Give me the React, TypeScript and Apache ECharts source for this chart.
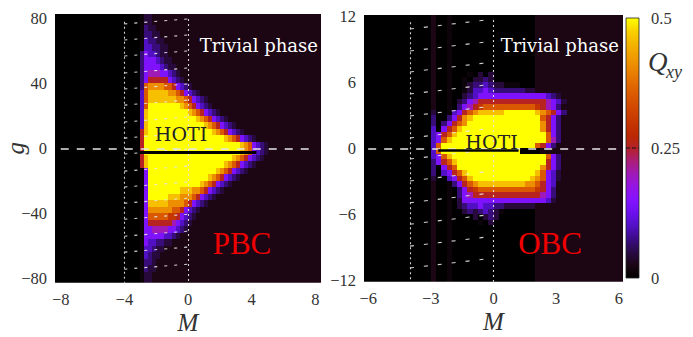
import React, { useEffect, useRef } from 'react';
import * as echarts from 'echarts';

// value level for each character in the row strings
const LEVEL: Record<string, number> = {
  _: 0, a: 0.012, b: 0.025, c: 0.045, d: 0.07, e: 0.1, p: 0.145, m: 0.2,
  r: 0.255, s: 0.3, o: 0.35, q: 0.41, y: 0.46, Y: 0.5,
};

// colormap stops from 0 to 0.5 (step 0.025)
const COLOR_STOPS = [
  '#000000', '#1c0614', '#2a0a46', '#3c0c86', '#5210c4', '#6c10ee', '#8412ff',
  '#9414e6', '#a01ab8', '#ac1e78', '#b42228', '#bc2800', '#c63600', '#d04600',
  '#da5800', '#e26c00', '#ea8400', '#f09c00', '#f4b400', '#f9d200', '#ffff00',
];

// PBC panel: rows from g=80 downward (step 4), columns from M=-3.5 (step 0.25)
const pbcRows = [
  '_2 a c2 b',
  '_2 a d c2 b',
  '_2 a d2 c2 b',
  '_2 a e d2 c2 b',
  '_2 a e2 d2 c2 b',
  '_2 d p e2 d c2 b',
  '_2 d p3 e d c2 b',
  '_2 d p4 e d c2 b',
  '_2 d p m3 p2 e d c b',
  '_2 d p r5 p e d c b',
  '_2 d o q4 o2 r p e d c b',
  '_2 e o y5 q2 o r p e d c b',
  '_2 e o y7 q2 o r p e d c b',
  '_2 e o Y8 y q o r p e d c b',
  '_2 e y Y10 y q o r p e d c b',
  '_2 e y Y12 y q o r p e d c b',
  '_2 e y Y14 y q o r p e d c b',
  '_2 r y Y16 y q o r p e d c b',
  '_2 r Y20 y q o r p e d c b',
  '_2 r Y24 y q o p e d c b',
  '_2 r Y24 y q o p e d c b',
  '_2 r y Y21 y q o r p e d c b',
  '_2 r y Y19 y q o r p e d c b',
  '_2 a p Y17 y q o r p e d c b',
  '_2 a p Y15 y q o r p e d c b',
  '_2 a p Y13 y q o r p e d c b',
  '_2 a p Y8 y3 q2 o r p e d c b',
  '_2 a p Y5 y3 q3 o r p e d c b',
  '_2 a p y5 q4 o r p e d c b',
  '_2 a p q6 o2 r p e d c b',
  '_2 a p o5 s2 r p e d c b',
  '_2 a p r6 m p e d c b',
  '_2 a p2 m4 p2 e d c b',
  '_2 a p5 e2 d c b',
  '_2 a p e2 d2 c2 b',
  '_2 a e2 d c2 b',
  '_2 a e d c2 b',
  '_2 a d2 c b',
  '_2 a d c2 b',
  '_2 a c2 b',
];

// OBC panel: rows from g=12 downward (step 0.5), columns from M=-3.25 (step 0.25)
const OBC_BASE = '_ b _2 a _16 b';
const obcRows = [
  OBC_BASE, OBC_BASE, OBC_BASE, OBC_BASE, OBC_BASE,
  OBC_BASE, OBC_BASE, OBC_BASE, OBC_BASE, OBC_BASE,
  '_ b _2 a _3 a _ c _ c _8 b',
  '_ b _2 a _2 a _ c2 d c _8 b',
  '_ b _2 a _2 a c d2 e d c2 a3 _3 b',
  '_ b _2 a _2 a c e2 p e d6 c2 b',
  '_ b _2 a _2 c d e p13 e d c b',
  '_ b _2 a _ c d p m r13 m p e c b',
  '_ b _2 a _ d p m r s o10 s r m p d b',
  '_ c _2 a e p r o q y5 Y6 y q o r p d b',
  '_ d _2 d p r q y Y13 o r p d b',
  '_ d _ d p r o q Y14 q r p d b',
  '_ e _ p r o y Y15 q r p d b',
  '_ e p r o y Y17 o p d b',
  '_ e p o y Y18 o m d b',
  '_ e o Y18 o r p d b',
  '_ e o Y15 _4 b',
  '_ e p o y Y18 o p d b',
  '_ d p r o y Y17 r p d b',
  '_ d _ p r o Y16 q r p d b',
  '_ d _ e p r o y Y13 y o p e c b',
  '_ c _2 e p r o y Y11 y q o p e c b',
  '_ b _2 a d p r o q y9 q2 o r p e b',
  '_ b _2 a _ d p r s o11 s r p d b',
  '_ b _2 a _ d p m r13 m p d b',
  '_ b _2 a _ c p16 e c b',
  '_ b _2 a _ c d e2 p e2 d2 c6 b',
  '_ b _2 a _2 c d c d e d c a _6 b',
  '_ b _2 a _4 c _ c d c _7 b',
  '_ b _2 a _5 a _ c _8 b',
  OBC_BASE, OBC_BASE, OBC_BASE, OBC_BASE, OBC_BASE,
  OBC_BASE, OBC_BASE, OBC_BASE, OBC_BASE, OBC_BASE,
];

const pbcXTicks = [-8, -4, 0, 4, 8];
const pbcYTicks = [-80, -40, 0, 40, 80];
const obcXTicks = [-6, -3, 0, 3, 6];
const obcYTicks = [-12, -6, 0, 6, 12];
const colorbarTicks = [0, 0.25, 0.5];

// overlay box (dotted verticals, dashed slanted lines)
const boxM = [-4, 0];
const pbcVTop = [77.9, 79.6];
const pbcSlantLeft = [76.5, 66.6, 56.8, 46.3, 36.5, 26.6, 16.2, 6.3, -3.5, -14.0, -23.8, -33.7, -43.6, -54.0, -63.8, -74.3];
const pbcSlantRight = [79.6, 69.7, 59.9, 49.4, 39.6, 29.7, 19.3, 9.4, -0.4, -10.9, -20.7, -30.6, -40.5, -50.9, -60.7, -71.2];
const obcVTop = [11.5, 11.7];
const obcSlantLeft = [10.87, 8.87, 6.96, 4.95, 2.95, 0.94, -0.97, -2.97, -4.95, -6.91, -8.91, -10.9];
const obcSlantRight = [11.78, 9.78, 7.87, 5.86, 3.86, 1.85, -0.06, -2.06, -4.04, -6.0, -8.0, -9.99];

// black gap lines just below g=0
const pbcGap = [[-3.05, -2.3], [4.3, -2.3]];
const obcGapThin = [[-2.65, -0.15], [1.2, -0.15]];

const PBC_X = [-8.36, 8.36];
const PBC_Y = [-82.6, 82.6];
const OBC_X = [-6.2, 6.2];
const OBC_Y = [-12.15, 12.15];

function parseRow(s: string): string[] {
  const out: string[] = [];
  const re = /([A-Za-z_])(\d*)/g;
  let m: RegExpExecArray | null;
  while ((m = re.exec(s))) {
    const n = m[2] ? parseInt(m[2], 10) : 1;
    for (let i = 0; i < n; i++) out.push(m[1]);
  }
  return out;
}

function buildCells(rows: string[], m0: number, dm: number, gTop: number, dg: number, xr: number[], yr: number[]) {
  const cells: number[][] = [];
  rows.forEach((row, i) => {
    let gHi = gTop - i * dg;
    let gLo = gHi - dg;
    if (i === 0) gHi = yr[1];
    if (i === rows.length - 1) gLo = yr[0];
    const chars = parseRow(row);
    const segs: [number, number, string][] = [[xr[0], m0, '_']];
    chars.forEach((ch, k) => {
      const x0 = m0 + k * dm;
      const x1 = k === chars.length - 1 ? xr[1] : x0 + dm;
      segs.push([x0, x1, ch]);
    });
    let cur = segs[0].slice() as [number, number, string];
    for (let s = 1; s < segs.length; s++) {
      if (segs[s][2] === cur[2]) cur[1] = segs[s][1];
      else {
        cells.push([cur[0], cur[1], gLo, gHi, LEVEL[cur[2]]]);
        cur = segs[s].slice() as [number, number, string];
      }
    }
    cells.push([cur[0], cur[1], gLo, gHi, LEVEL[cur[2]]]);
  });
  return cells;
}

const SERIF = 'Liberation Serif';
const fmt = (v: number) => (v < 0 ? '\u2212' + Math.abs(v) : String(v));

function renderCell(params: any, api: any) {
  const a = api.coord([api.value(0), api.value(3)]);
  const b = api.coord([api.value(1), api.value(2)]);
  const x0 = Math.round(a[0]), y0 = Math.round(a[1]);
  const x1 = Math.round(b[0]), y1 = Math.round(b[1]);
  const col = api.visual('color');
  return {
    type: 'rect',
    shape: { x: x0, y: y0, width: x1 - x0, height: y1 - y0 },
    style: { fill: col },
  };
}

function overlaySeries(axis: number, vTop: number[], left: number[], right: number[], yMin: number, slantDash: number[], xr: number[]) {
  return [
    {
      type: 'lines', coordinateSystem: 'cartesian2d', xAxisIndex: axis, yAxisIndex: axis,
      silent: true, z: 5,
      lineStyle: { color: '#e8e8e8', width: 1.1, type: [2, 3], opacity: 0.9 },
      data: boxM.map((m, i) => ({ coords: [[m, vTop[i]], [m, yMin]] })),
    },
    {
      type: 'lines', coordinateSystem: 'cartesian2d', xAxisIndex: axis, yAxisIndex: axis,
      silent: true, z: 5,
      lineStyle: { color: '#e8e8e8', width: 1.1, type: slantDash, opacity: 0.9 },
      data: left.map((g, i) => ({ coords: [[boxM[0], g], [boxM[1], right[i]]] })),
    },
    {
      type: 'lines', coordinateSystem: 'cartesian2d', xAxisIndex: axis, yAxisIndex: axis,
      silent: true, z: 6,
      lineStyle: { color: '#e6e6e6', width: 1.6, type: [8, 8], opacity: 1 },
      data: [{ coords: [[xr[0], 0], [xr[1], 0]] }],
    },
  ];
}

export default function App() {
  const ref = useRef<HTMLDivElement>(null);
  useEffect(() => {
    document.body.style.margin = '0';
    const chart = echarts.init(ref.current!, null, { renderer: 'svg' });
    const pbcCells = buildCells(pbcRows, -3.5, 0.25, 80, 4, PBC_X, PBC_Y);
    const obcCells = buildCells(obcRows, -3.25, 0.25, 12, 0.5, OBC_X, OBC_Y);

    const axisLabel = (ticks: number[]) => ({
      customValues: ticks, formatter: fmt, fontFamily: SERIF, fontSize: 16.5, color: '#333', margin: 8,
    });
    const nameStyle = { fontFamily: SERIF, fontStyle: 'italic', fontSize: 25, color: '#333', lineHeight: 25 };
    const common = {
      type: 'value', axisLine: { show: false }, axisTick: { show: false }, splitLine: { show: false },
      nameMoveOverlap: false,
    };

    const gradStops = COLOR_STOPS.map((c, i) => ({ offset: 1 - i / (COLOR_STOPS.length - 1), color: c })).reverse();

    const cbTop = 18, cbH = 260;
    const option: any = {
      animation: false,
      backgroundColor: '#ffffff',
      grid: [
        { left: 55, top: 14, width: 266, height: 268.7, outerBoundsMode: 'none', containLabel: false },
        { left: 364, top: 15, width: 259, height: 266.7, outerBoundsMode: 'none', containLabel: false },
      ],
      xAxis: [
        { ...common, gridIndex: 0, min: PBC_X[0], max: PBC_X[1], axisLabel: axisLabel(pbcXTicks),
          name: 'M', nameLocation: 'middle', nameGap: 27, nameTextStyle: nameStyle },
        { ...common, gridIndex: 1, min: OBC_X[0], max: OBC_X[1], axisLabel: axisLabel(obcXTicks),
          name: 'M', nameLocation: 'middle', nameGap: 27, nameTextStyle: nameStyle },
      ],
      yAxis: [
        { ...common, gridIndex: 0, min: PBC_Y[0], max: PBC_Y[1], axisLabel: axisLabel(pbcYTicks),
          name: 'g', nameLocation: 'middle', nameGap: 27, nameRotate: 90, nameTextStyle: nameStyle },
        { ...common, gridIndex: 1, min: OBC_Y[0], max: OBC_Y[1], axisLabel: axisLabel(obcYTicks) },
      ],
      visualMap: {
        type: 'continuous', show: false, min: 0, max: 0.5, dimension: 4, seriesIndex: [0, 1],
        inRange: { color: COLOR_STOPS },
      },
      series: [
        { type: 'custom', xAxisIndex: 0, yAxisIndex: 0, data: pbcCells, renderItem: renderCell,
          encode: { x: [0, 1], y: [2, 3] }, clip: true, silent: true, z: 1 },
        { type: 'custom', xAxisIndex: 1, yAxisIndex: 1, data: obcCells, renderItem: renderCell,
          encode: { x: [0, 1], y: [2, 3] }, clip: true, silent: true, z: 1 },
        ...overlaySeries(0, pbcVTop, pbcSlantLeft, pbcSlantRight, PBC_Y[0], [3, 7], [-8, 8]),
        ...overlaySeries(1, obcVTop, obcSlantLeft, obcSlantRight, OBC_Y[0], [4, 10], [-6, 6.2]),
        { type: 'lines', coordinateSystem: 'cartesian2d', xAxisIndex: 0, yAxisIndex: 0, silent: true, z: 7,
          lineStyle: { color: '#000', width: 3, opacity: 1 }, data: [{ coords: pbcGap }] },
        { type: 'lines', coordinateSystem: 'cartesian2d', xAxisIndex: 1, yAxisIndex: 1, silent: true, z: 7,
          lineStyle: { color: '#000', width: 2.5, opacity: 1 }, data: [{ coords: obcGapThin }] },
      ],
      graphic: [
        { type: 'text', x: 318, y: 45.5, z: 100, style: { text: 'Trivial phase', fill: '#ffffff', font: '18px "DejaVu Serif"', align: 'right', verticalAlign: 'middle' } },
        { type: 'text', x: 619, y: 45.5, z: 100, style: { text: 'Trivial phase', fill: '#ffffff', font: '18px "DejaVu Serif"', align: 'right', verticalAlign: 'middle' } },
        { type: 'text', x: 181, y: 134, z: 100, style: { text: 'HOTI', fill: '#222222', font: '19px "DejaVu Serif"', align: 'center', verticalAlign: 'middle' } },
        { type: 'text', x: 491.5, y: 141.5, z: 100, style: { text: 'HOTI', fill: '#222222', font: '19px "DejaVu Serif"', align: 'center', verticalAlign: 'middle' } },
        { type: 'text', x: 242, y: 243, z: 100, style: { text: 'PBC', fill: '#f00000', font: '31px "Liberation Serif"', align: 'center', verticalAlign: 'middle' } },
        { type: 'text', x: 550, y: 243, z: 100, style: { text: 'OBC', fill: '#f00000', font: '31px "Liberation Serif"', align: 'center', verticalAlign: 'middle' } },
        { type: 'rect', x: 626, y: cbTop, z: 100, shape: { width: 13, height: cbH },
          style: { fill: { type: 'linear', x: 0, y: 0, x2: 0, y2: 1, colorStops: gradStops }, stroke: '#222', lineWidth: 0.8 } },
        { type: 'line', z: 101, shape: { x1: 626, y1: cbTop + cbH / 2, x2: 639, y2: cbTop + cbH / 2 },
          style: { stroke: '#111', lineWidth: 1, lineDash: [4, 2] } },
        ...colorbarTicks.map((v) => ({
          type: 'text', x: 651, y: cbTop + cbH - (v / 0.5) * cbH, z: 100,
          style: { text: String(v), fill: '#333', font: '16.5px "Liberation Serif"', align: 'left', verticalAlign: 'middle' },
        })),
        { type: 'text', x: 648, y: 62, z: 100, style: { text: 'Q', fill: '#333', font: 'italic 27px "Liberation Serif"', align: 'left', verticalAlign: 'middle' } },
        { type: 'text', x: 666, y: 72, z: 100, style: { text: 'xy', fill: '#333', font: 'italic 18px "Liberation Serif"', align: 'left', verticalAlign: 'middle' } },
      ],
    };
    chart.setOption(option);
    return () => chart.dispose();
  }, []);
  return <div ref={ref} style={{ width: 693, height: 337 }} />;
}
